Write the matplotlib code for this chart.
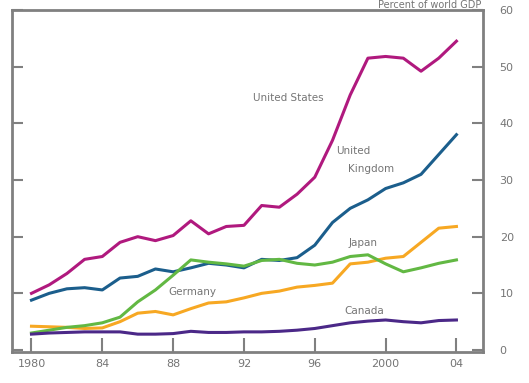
import matplotlib
matplotlib.use("Agg")
import matplotlib.pyplot as plt

years = list(range(1980, 2005))

us = [10.0, 11.5, 13.5, 16.0, 16.5, 19.0, 20.0, 19.3, 20.2, 22.8, 20.5, 21.8, 22.0, 25.5, 25.2, 27.5, 30.5,
      37.0, 45.0, 51.5, 51.8, 51.5, 49.2, 51.5, 54.5]
uk = [8.8, 10.0, 10.8, 11.0, 10.6, 12.7, 13.0, 14.3, 13.8, 14.5, 15.3, 15.0, 14.5, 16.0, 15.8, 16.3, 18.5,
      22.5, 25.0, 26.5, 28.5, 29.5, 31.0, 34.5, 38.0]
germany = [3.0, 3.5, 4.0, 4.3, 4.8, 5.8, 8.5, 10.6, 13.2, 15.9, 15.5, 15.2, 14.8, 15.8, 16.0, 15.3, 15.0,
           15.5, 16.5, 16.8, 15.2, 13.8, 14.5, 15.3, 15.9]
japan = [4.2, 4.1, 4.0, 3.8, 3.9, 5.0, 6.5, 6.8, 6.2, 7.3, 8.3, 8.5, 9.2, 10.0, 10.4, 11.1, 11.4,
         11.8, 15.2, 15.5, 16.2, 16.5, 19.0, 21.5, 21.8]
canada = [2.8, 3.0, 3.1, 3.2, 3.2, 3.2, 2.8, 2.8, 2.9, 3.3, 3.1, 3.1, 3.2, 3.2, 3.3, 3.5, 3.8,
          4.3, 4.8, 5.1, 5.3, 5.0, 4.8, 5.2, 5.3]

xticks = [1980, 1984, 1988, 1992, 1996, 2000, 2004]
xlabels = ["1980", "84", "88", "92", "96", "2000", "04"]
yticks = [0, 10, 20, 30, 40, 50, 60]

GREY = "#808080"
TXT = "#757575"

fig = plt.figure(figsize=(5.29, 3.83), dpi=100)
ax = fig.add_axes([12 / 529, 1 - 352 / 383, 471 / 529, 342 / 383])

# series, drawn back to front like the reference
ax.plot(years, us, color="#b0197e", lw=2.2)
ax.plot(years, uk, color="#1b5e8c", lw=2.2)
ax.plot(years, japan, color="#f7a823", lw=2.2)
ax.plot(years, germany, color="#62b843", lw=2.2)
ax.plot(years, canada, color="#4b2888", lw=2.2)

ax.set_xlim(1978.9, 2005.5)
ax.set_ylim(-0.35, 60)

ax.set_xticks(xticks)
ax.set_xticklabels(xlabels)
ax.set_yticks(yticks)
ax.tick_params(axis="x", direction="in", length=10, width=1.5, color=GREY,
               labelsize=8, labelcolor=TXT, pad=5)
ax.tick_params(axis="y", direction="in", length=8, width=1.5, color=GREY,
               labelsize=8, labelcolor=TXT, left=True, right=True,
               labelleft=False, labelright=True, pad=12)
for s in ax.spines.values():
    s.set_color(GREY)
    s.set_linewidth(2)

lab = dict(fontsize=7.5, color=TXT)
ax.text(1994.5, 44.4, "United States", ha="center", va="center", **lab)
ax.text(1998.2, 35.1, "United", ha="center", va="center", **lab)
ax.text(1999.2, 31.9, "Kingdom", ha="center", va="center", **lab)
ax.text(1998.7, 18.8, "Japan", ha="center", va="center", **lab)
ax.text(1989.1, 10.2, "Germany", ha="center", va="center", **lab)
ax.text(1998.8, 6.9, "Canada", ha="center", va="center", **lab)

fig.text(430 / 529, 1 - 0.5 / 383, "Percent of world GDP", ha="center", va="top",
         fontsize=7, color=TXT)

fig.savefig("out.png", dpi=100)
